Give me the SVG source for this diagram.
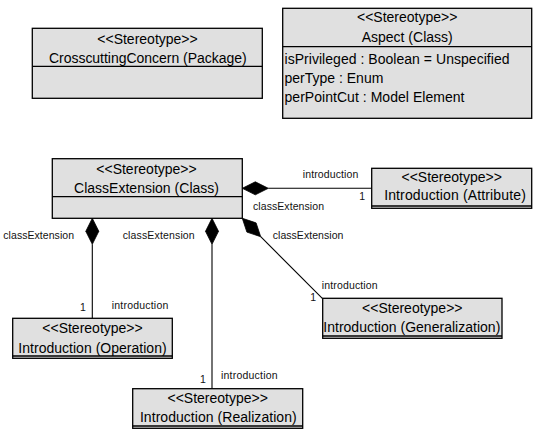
<svg xmlns="http://www.w3.org/2000/svg" width="543" height="436" viewBox="0 0 543 436">
<style>
.box{fill:#e0e0e0;stroke:#000;stroke-width:1.3}
.sep{stroke:#000;stroke-width:1.3;fill:none}
.t{font-family:"Liberation Sans",Arial,sans-serif;font-size:14px;fill:#000;text-anchor:middle}
.a{font-family:"Liberation Sans",Arial,sans-serif;font-size:14px;fill:#000}
.l{font-family:"Liberation Sans",Arial,sans-serif;font-size:10.5px;fill:#111}
.c{stroke:#000;stroke-width:1.1;fill:none}
.d{fill:#000;stroke:#000;stroke-width:0.8}
</style>
<defs>
<path id="dia" d="M0,0 L13,-6.5 L26,0 L13,6.5 Z"/>
</defs>
<rect width="543" height="436" fill="#fff"/>
<g id="crosscutting">
<rect class="box" x="32.3" y="28.3" width="230" height="70"/>
<line class="sep" x1="32.3" y1="66.3" x2="262.3" y2="66.3"/>
<text class="t" x="147.5" y="43.5">&lt;&lt;Stereotype&gt;&gt;</text>
<text class="t" x="147.8" y="62.7" textLength="197.7">CrosscuttingConcern (Package)</text>
</g>
<g id="aspect">
<rect class="box" x="282.7" y="8.3" width="249" height="110"/>
<line class="sep" x1="282.7" y1="46.7" x2="531.7" y2="46.7"/>
<text class="t" x="407.2" y="21.5">&lt;&lt;Stereotype&gt;&gt;</text>
<text class="t" x="407.2" y="41.5" textLength="91">Aspect (Class)</text>
<text class="a" x="284.5" y="64" textLength="225">isPrivileged : Boolean = Unspecified</text>
<text class="a" x="284.5" y="82.7">perType : Enum</text>
<text class="a" x="284.5" y="101.7" textLength="180">perPointCut : Model Element</text>
</g>
<g id="classExtension">
<rect class="box" x="52.3" y="158.7" width="190" height="59.6"/>
<line class="sep" x1="52.3" y1="196.7" x2="242.3" y2="196.7"/>
<text class="t" x="146.5" y="173.5">&lt;&lt;Stereotype&gt;&gt;</text>
<text class="t" x="146.5" y="192.5" textLength="145">ClassExtension (Class)</text>
</g>
<g id="introAttribute">
<rect class="box" x="371.7" y="168.3" width="160" height="40"/>
<line class="sep" x1="371.7" y1="206" x2="531.7" y2="206"/>
<text class="t" x="451.7" y="181.5">&lt;&lt;Stereotype&gt;&gt;</text>
<text class="t" x="455" y="199.5" textLength="141.7">Introduction (Attribute)</text>
</g>
<g id="introOperation">
<rect class="box" x="12.7" y="318.3" width="159.6" height="40"/>
<line class="sep" x1="12.7" y1="356" x2="172.3" y2="356"/>
<text class="t" x="92.5" y="332.7">&lt;&lt;Stereotype&gt;&gt;</text>
<text class="t" x="92.5" y="352.7" textLength="148.3">Introduction (Operation)</text>
</g>
<g id="introGeneralization">
<rect class="box" x="322.7" y="298.3" width="179.3" height="40"/>
<line class="sep" x1="322.7" y1="336" x2="502" y2="336"/>
<text class="t" x="412.3" y="312.7">&lt;&lt;Stereotype&gt;&gt;</text>
<text class="t" x="411.8" y="331.5" textLength="177">Introduction (Generalization)</text>
</g>
<g id="introRealization">
<rect class="box" x="132.7" y="388.7" width="170" height="39.6"/>
<line class="sep" x1="132.7" y1="426" x2="302.7" y2="426"/>
<text class="t" x="217.7" y="402.7">&lt;&lt;Stereotype&gt;&gt;</text>
<text class="t" x="218.3" y="422" textLength="156.7">Introduction (Realization)</text>
</g>
<g id="connectors">
<use href="#dia" class="d" transform="translate(242.3,188.3)"/>
<line class="c" x1="268.3" y1="188.3" x2="371.7" y2="188.3"/>
<use href="#dia" class="d" transform="translate(92.3,218.3) rotate(90)"/>
<line class="c" x1="92.3" y1="244.3" x2="92.3" y2="318.3"/>
<use href="#dia" class="d" transform="translate(212,218.3) rotate(90)"/>
<line class="c" x1="212" y1="244.3" x2="212" y2="388.7"/>
<use href="#dia" class="d" transform="translate(242.3,218.3) rotate(45)"/>
<line class="c" x1="260.7" y1="236.7" x2="322.3" y2="298.3"/>
<text class="l" x="302.7" y="178.3" textLength="55.7">introduction</text>
<text class="l" x="359.3" y="200">1</text>
<text class="l" x="253" y="209.5" textLength="71">classExtension</text>
<text class="l" x="272.7" y="239.3" textLength="70.7">classExtension</text>
<text class="l" x="3.3" y="239.3" textLength="70.7">classExtension</text>
<text class="l" x="122.7" y="239.3" textLength="72">classExtension</text>
<text class="l" x="80" y="311">1</text>
<text class="l" x="111.7" y="309.3" textLength="56.6">introduction</text>
<text class="l" x="321.7" y="289.3" textLength="56">introduction</text>
<text class="l" x="310.3" y="301">1</text>
<text class="l" x="200" y="382.7">1</text>
<text class="l" x="221" y="379.3" textLength="56.6">introduction</text>
</g>
</svg>
